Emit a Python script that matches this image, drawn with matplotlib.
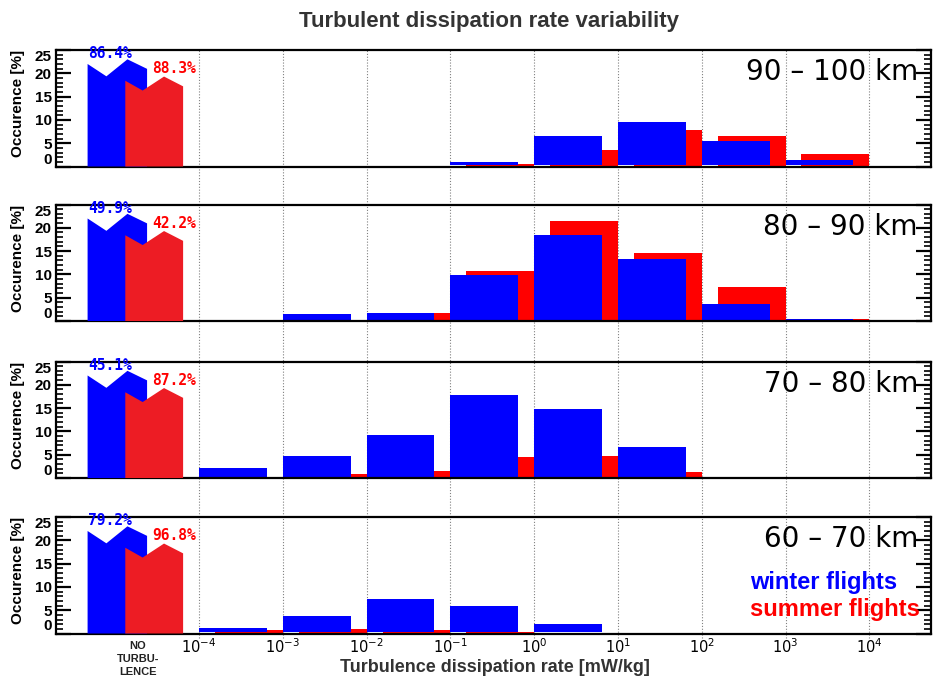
import matplotlib
matplotlib.use("Agg")
import matplotlib.pyplot as plt
import matplotlib.transforms as mtransforms
from matplotlib.patches import Polygon
from matplotlib.lines import Line2D
from matplotlib.ticker import FixedLocator, NullLocator

# ---------------------------------------------------------------- data
# histogram bins: lower decade exponent of each bin [mW/kg]
bin_exponents = [-4, -3, -2, -1, 0, 1, 2, 3]
decade_ticks = [-4, -3, -2, -1, 0, 1, 2, 3, 4]
decade_labels = [r"$10^{-4}$", r"$10^{-3}$", r"$10^{-2}$", r"$10^{-1}$",
                 r"$10^{0}$", r"$10^{1}$", r"$10^{2}$", r"$10^{3}$", r"$10^{4}$"]

altitude_labels = ["90 \u2013 100 km", "80 \u2013 90 km", "70 \u2013 80 km", "60 \u2013 70 km"]

# occurrence [%] per bin, winter / summer flights
winter_90_100 = [0.0, 0.0, 0.0, 0.9, 6.6, 9.6, 5.5, 1.4]
summer_90_100 = [0.0, 0.0, 0.0, 0.5, 3.5, 7.9, 6.6, 2.7]
winter_80_90 = [0.0, 1.4, 1.65, 9.8, 18.4, 13.2, 3.7, 0.4]
summer_80_90 = [0.0, 0.2, 1.7, 10.7, 21.4, 14.5, 7.4, 0.4]
winter_70_80 = [2.1, 4.8, 9.3, 17.9, 14.7, 6.7, 0.0, 0.0]
summer_70_80 = [0.0, 0.9, 1.6, 4.6, 4.8, 1.35, 0.0, 0.0]
winter_60_70 = [1.1, 3.7, 7.4, 5.9, 2.0, 0.0, 0.0, 0.0]
summer_60_70 = [0.7, 0.9, 0.7, 0.4, 0.0, 0.0, 0.0, 0.0]

# fraction of profiles without turbulence [%]
no_turb_winter = [86.4, 49.9, 45.1, 79.2]
no_turb_summer = [88.3, 42.2, 87.2, 96.8]

winter_sets = [winter_90_100, winter_80_90, winter_70_80, winter_60_70]
summer_sets = [summer_90_100, summer_80_90, summer_70_80, summer_60_70]

# ---------------------------------------------------------------- style
BLUE = "#0000ff"
RED = "#ff0000"
RED_NT = "#ed1c24"
W_PX, H_PX = 933, 679
LEFT_PX, RIGHT_PX = 56, 931
PANEL_TOPS_PX = [50, 204.5, 361.5, 517]
PANEL_H_PX = 116.5
XLOG_MIN, XLOG_MAX = -5.707, 4.736
WINTER_SPAN = (0.0, 0.81)      # bar extent inside a decade
SUMMER_SPAN = (0.19, 1.0)
BLUE_LIFT = 0.25
# broken bars for the "no turbulence" class (log-x extents, zig-zag tops)
NT_WINTER_X = (-5.33, -4.62)
NT_SUMMER_X = (-4.88, -4.19)
NT_WINTER_TOP = [(0.0, 22.0), (0.316, 19.35), (0.67, 23.0), (1.0, 20.95)]
NT_SUMMER_TOP = [(0.0, 18.4), (0.30, 16.3), (0.67, 19.3), (1.0, 17.2)]
NT_LABEL_X = -4.73

plt.rcParams["font.family"] = ["Liberation Sans", "DejaVu Sans"]
plt.rcParams["mathtext.fontset"] = "dejavusans"

fig = plt.figure(figsize=(W_PX / 100, H_PX / 100), dpi=100)
fig.patch.set_facecolor("white")


def broken_bar(ax, span, profile, color):
    x0, x1 = span
    pts = [(10 ** x0, 0.0)]
    for f, y in profile:
        pts.append((10 ** (x0 + f * (x1 - x0)), y))
    pts.append((10 ** x1, 0.0))
    ax.add_patch(Polygon(pts, closed=True, facecolor=color, edgecolor="none", zorder=3))


axes = []
for i in range(4):
    top = PANEL_TOPS_PX[i]
    rect = [LEFT_PX / W_PX, 1 - (top + PANEL_H_PX) / H_PX,
            (RIGHT_PX - LEFT_PX) / W_PX, PANEL_H_PX / H_PX]
    ax = fig.add_axes(rect)
    ax.patch.set_visible(False)
    ax.set_xscale("log")
    ax.set_xlim(10 ** XLOG_MIN, 10 ** XLOG_MAX)
    ax.set_ylim(0, 25)

    w = winter_sets[i]
    s = summer_sets[i]
    lefts_s = [10 ** (e + SUMMER_SPAN[0]) for e in bin_exponents]
    widths_s = [10 ** (e + SUMMER_SPAN[1]) - 10 ** (e + SUMMER_SPAN[0]) for e in bin_exponents]
    lefts_w = [10 ** (e + WINTER_SPAN[0]) for e in bin_exponents]
    widths_w = [10 ** (e + WINTER_SPAN[1]) - 10 ** (e + WINTER_SPAN[0]) for e in bin_exponents]
    ax.bar(lefts_s, s, width=widths_s, align="edge", color=RED, linewidth=0, zorder=2)
    w_h = [max(v - BLUE_LIFT, 0.0) if v > 0 else 0.0 for v in w]
    ax.bar(lefts_w, w_h, width=widths_w, bottom=BLUE_LIFT, align="edge",
           color=BLUE, linewidth=0, zorder=2.5)

    # no-turbulence class
    broken_bar(ax, NT_WINTER_X, NT_WINTER_TOP, BLUE)
    broken_bar(ax, NT_SUMMER_X, NT_SUMMER_TOP, RED_NT)
    ax.text(10 ** -5.06, 24.2, f"{no_turb_winter[i]:.1f}%", color=BLUE,
            ha="center", va="center", fontsize=10.5, fontweight="bold",
            family="DejaVu Sans Mono", zorder=4)
    ax.text(10 ** -4.30, 21.0, f"{no_turb_summer[i]:.1f}%", color=RED,
            ha="center", va="center", fontsize=10.5, fontweight="bold",
            family="DejaVu Sans Mono", zorder=4)

    ax.text(0.985, 0.81, altitude_labels[i], transform=ax.transAxes,
            ha="right", va="center", fontsize=20, family="DejaVu Sans", color="black")

    # axes frame and ticks
    for sp in ax.spines.values():
        sp.set_linewidth(1.6)
    ax.yaxis.set_major_locator(FixedLocator([0, 5, 10, 15, 20, 25]))
    ax.yaxis.set_minor_locator(FixedLocator(list(range(0, 26))))
    ax.tick_params(axis="y", which="major", direction="in", length=11, width=1.6,
                   left=True, right=True, labelsize=11, pad=3)
    ax.tick_params(axis="y", which="minor", direction="in", length=5, width=1.2,
                   left=True, right=True)
    ax.xaxis.set_minor_locator(NullLocator())
    ax.xaxis.set_major_locator(FixedLocator([10.0 ** e for e in decade_ticks]))
    ax.tick_params(axis="x", which="major", length=0, pad=3, labelsize=10.5)
    if i < 3:
        ax.set_xticklabels([])
    else:
        ax.set_xticklabels(decade_labels)
    ylabels = ax.set_yticklabels(["0", "5", "10", "15", "20", "25"], fontweight="bold")
    ylabels[0].set_verticalalignment("bottom")
    ylabels[-1].set_verticalalignment("top")

    ax.text(-0.043, 0.54, "Occurence [%]", transform=ax.transAxes, rotation=90,
            ha="center", va="center", fontsize=11, fontweight="bold")
    axes.append(ax)

ax_bottom = axes[-1]

# decade grid running through all panels
trans = mtransforms.blended_transform_factory(ax_bottom.transData, fig.transFigure)
y_top = 1 - PANEL_TOPS_PX[0] / H_PX
y_bot = 1 - (PANEL_TOPS_PX[-1] + PANEL_H_PX + 4) / H_PX
for e in decade_ticks:
    fig.add_artist(Line2D([10.0 ** e, 10.0 ** e], [y_bot, y_top], transform=trans,
                          color="#808080", linewidth=0.8, linestyle=(0, (1, 1.6)),
                          zorder=-1))

# "no turbulence" category label
lab_tr = mtransforms.blended_transform_factory(ax_bottom.transData, ax_bottom.transAxes)
ax_bottom.text(10 ** NT_LABEL_X, -0.065, "NO\nTURBU-\nLENCE", transform=lab_tr,
               ha="center", va="top", fontsize=8, fontweight="bold",
               linespacing=1.35, color="#222222")

# season legend
ax_bottom.text(0.793, 0.434, "winter flights", transform=ax_bottom.transAxes,
               ha="left", va="center", fontsize=17, fontweight="bold", color=BLUE)
ax_bottom.text(0.793, 0.209, "summer flights", transform=ax_bottom.transAxes,
               ha="left", va="center", fontsize=17, fontweight="bold", color=RED)

fig.text(495 / W_PX, 1 - 668 / H_PX, "Turbulence dissipation rate [mW/kg]",
         ha="center", va="center", fontsize=13, fontweight="bold", color="#333333")
fig.text(489 / W_PX, 1 - 22 / H_PX, "Turbulent dissipation rate variability",
         ha="center", va="center", fontsize=16, fontweight="bold", color="#333333")

fig.savefig("out.png", dpi=100)
